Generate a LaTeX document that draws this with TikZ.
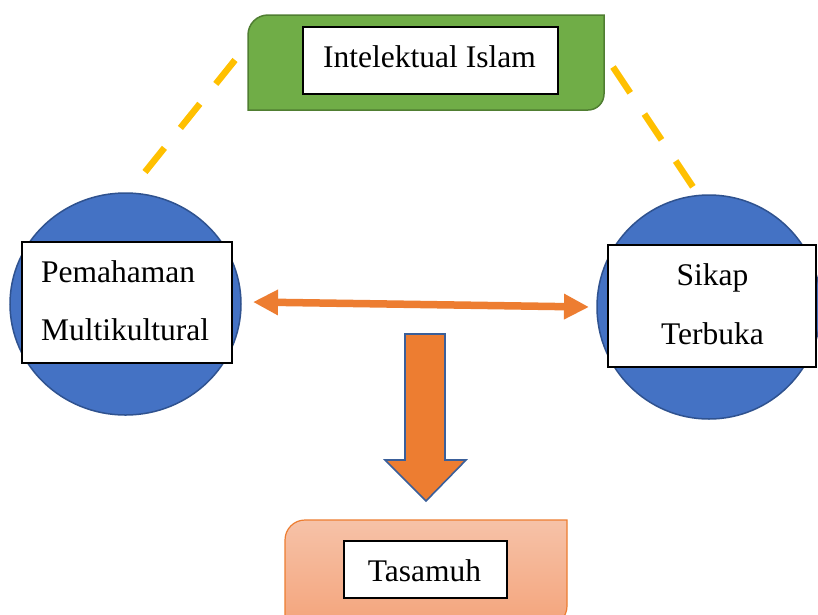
\documentclass[tikz,border=0pt]{standalone}
\usepackage{fontspec}
\setmainfont{Liberation Serif}
\usetikzlibrary{shapes.geometric,arrows.meta}
\definecolor{cblue}{HTML}{4472C4}
\definecolor{cblueb}{HTML}{2F528F}
\definecolor{cgreen}{HTML}{70AD47}
\definecolor{cgreenb}{HTML}{507E32}
\definecolor{corange}{HTML}{ED7D31}
\definecolor{cgold}{HTML}{FFC000}
\definecolor{cpeachtop}{HTML}{F6C2A8}
\definecolor{cpeachbot}{HTML}{F4A47B}
\definecolor{carrowb}{HTML}{3A5F9A}
\tikzset{
  x=1pt, y=-1pt,
  circ/.style={ellipse, fill=cblue, draw=cblueb, line width=1.5pt, inner sep=0pt},
  wbox/.style={rectangle, fill=white, draw=black, line width=1.2pt, inner sep=0pt},
  lbl/.style={inner sep=0pt, font=\fontsize{31.5}{38}\selectfont},
  dashline/.style={draw=cgold, line width=6.5pt, dash pattern=on 31pt off 25.5pt},
  dblarrow/.style={draw=corange, line width=7.5pt, {Triangle[length=25pt,width=24pt]}-{Triangle[length=25pt,width=24pt]}},
}
\begin{document}
\begin{tikzpicture}
\useasboundingbox (0,0) rectangle (818,614);
\clip (0,0) rectangle (818,614);
\fill[white] (0,0) rectangle (818,614);

% top green box (rounded top-left and bottom-right corners)
\path[fill=cgreen, draw=cgreenb, line width=1.5pt]
  (248,35) .. controls (248,23.95) and (256.95,15) .. (268,15) -- (604,15) -- (604,94)
  .. controls (604,102.84) and (596.84,110) .. (588,110) -- (248,110) -- cycle;
\node[wbox, minimum width=255pt, minimum height=67pt] (topbox) at (430.5,60.5) {};
\node[lbl, anchor=base west] (toptext) at (323,67) {Intelektual Islam};

% dashed connectors
\coordinate (dl1) at (145,172);
\coordinate (dl2) at (235,60);
\coordinate (dr1) at (613,67);
\coordinate (dr2) at (693,187);
\draw[dashline] (dl1) -- (dl2);
\draw[dashline] (dr1) -- (dr2);

% circles
\node[circ, minimum width=231pt, minimum height=222pt] (lc) at (125.5,304) {};
\node[circ, minimum width=224pt, minimum height=224pt] (rc) at (709,307) {};

% white boxes in circles
\node[wbox, minimum width=210pt, minimum height=121pt] (lbox) at (127,302.5) {};
\node[lbl, anchor=base west] (lt1) at (41,282) {Pemahaman};
\node[lbl, anchor=base west] (lt2) at (41,340) {Multikultural};

\node[wbox, minimum width=208pt, minimum height=122pt] (rbox) at (712,306) {};
\node[lbl, anchor=base] (rt1) at (712.5,285) {Sikap};
\node[lbl, anchor=base] (rt2) at (712.5,344) {Terbuka};

% double arrow
\coordinate (al) at (253,302);
\coordinate (ar) at (589,307);
\draw[dblarrow] (al) -- (ar);

% down block arrow
\path[fill=corange, draw=carrowb, line width=1.6pt, line join=miter]
  (405,334) -- (445,334) -- (445,460) -- (466,460) -- (426,501)
  -- (385,460) -- (405,460) -- cycle;

% bottom box
\path[top color=cpeachtop, bottom color=cpeachbot, draw=corange, line width=1.2pt]
  (285,540) .. controls (285,528.95) and (293.95,520) .. (305,520) -- (567,520) -- (567,606)
  .. controls (567,617.05) and (558.05,626) .. (547,626) -- (285,626) -- cycle;
\node[wbox, minimum width=163pt, minimum height=57pt] (bbox) at (425.5,569.5) {};
\node[lbl, anchor=base] (btext) at (424.5,581) {Tasamuh};
\end{tikzpicture}
\end{document}
